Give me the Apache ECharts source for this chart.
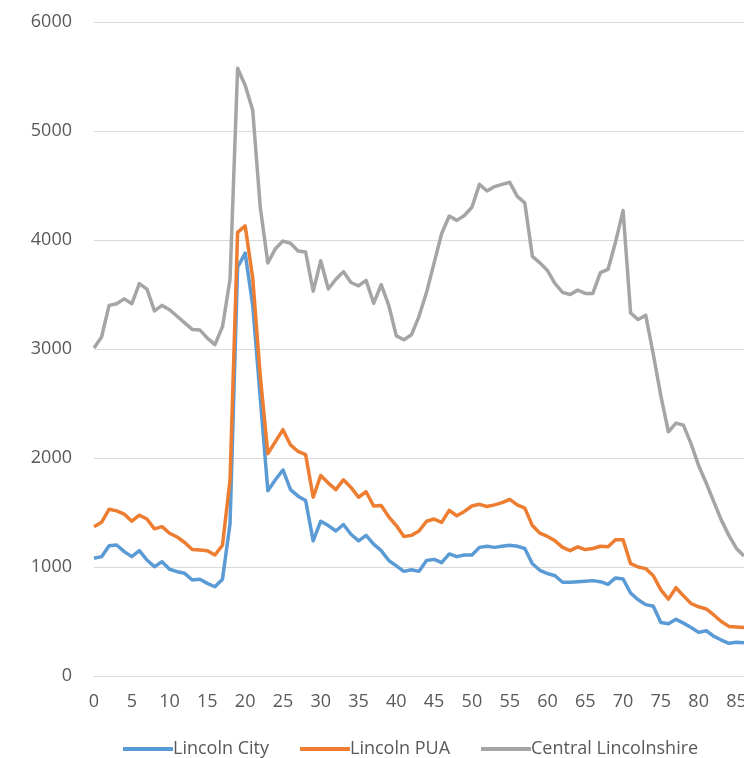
<!DOCTYPE html>
<html>
<head>
<meta charset="utf-8">
<script src="https://cdn.jsdelivr.net/npm/echarts@6/dist/echarts.min.js"></script>
<style>
html,body{margin:0;padding:0;background:#fff;overflow:hidden;}
#chart{width:744px;height:758px;}
</style>
</head>
<body>
<div id="chart"></div>
<script>
const ages = [];
for (let a = 0; a <= 86; a++) ages.push(String(a));

const seriesNames = ['Lincoln City', 'Lincoln PUA', 'Central Lincolnshire'];

const lincolnCity = [
  1080, 1095, 1196, 1202, 1141, 1095, 1150, 1064, 1003, 1049,
  979, 957, 942, 881, 887, 850, 819, 887, 1400, 3750,
  3880, 3400, 2550, 1700, 1800, 1890, 1710, 1650, 1610, 1240,
  1420, 1380, 1330, 1390, 1300, 1240, 1290, 1210, 1150, 1060,
  1010, 960, 975, 960, 1060, 1070, 1040, 1120, 1095, 1110,
  1110, 1180, 1190, 1180, 1190, 1200, 1190, 1170, 1030, 970,
  940, 920, 860, 860, 865, 870, 875, 865, 840, 900,
  890, 760, 700, 655, 640, 490, 480, 520, 485, 445,
  400, 415, 365, 330, 300, 310, 305
];

const lincolnPUA = [
  1370, 1410, 1530, 1515, 1485, 1420, 1475, 1440, 1350, 1370,
  1310, 1275, 1225, 1160, 1155, 1150, 1110, 1200, 1800, 4070,
  4130, 3650, 2750, 2040, 2150, 2260, 2120, 2060, 2030, 1640,
  1840, 1770, 1710, 1800, 1730, 1640, 1690, 1560, 1565, 1460,
  1380, 1280, 1290, 1330, 1420, 1440, 1410, 1520, 1470, 1510,
  1560, 1575, 1555, 1570, 1590, 1620, 1570, 1540, 1380, 1310,
  1280, 1240, 1180, 1150, 1185, 1160, 1170, 1190, 1185, 1250,
  1250, 1030, 1000, 985, 920, 790, 705, 810, 735, 665,
  635, 615, 560, 500, 455, 450, 445
];

const centralLincolnshire = [
  3010, 3110, 3400, 3415, 3460, 3415, 3600, 3550, 3350, 3400,
  3360, 3300, 3240, 3180, 3175, 3100, 3040, 3205, 3640, 5575,
  5420, 5190, 4300, 3790, 3920, 3990, 3970, 3900, 3890, 3530,
  3810, 3550, 3640, 3710, 3610, 3580, 3630, 3420, 3590, 3400,
  3120, 3085, 3130, 3300, 3520, 3790, 4060, 4220, 4180, 4225,
  4300, 4510, 4450, 4490, 4510, 4530, 4400, 4340, 3850, 3790,
  3720, 3600, 3520, 3500, 3540, 3510, 3510, 3700, 3730, 3980,
  4270, 3330, 3270, 3310, 2950, 2570, 2240, 2320, 2300, 2130,
  1930, 1770, 1600, 1430, 1290, 1170, 1100
];

const yTicks = [0, 1000, 2000, 3000, 4000, 5000, 6000];
const colors = ['#5b9bd5', '#ed7d31', '#a5a5a5'];
const textColor = '#595959';
const fontFamily = '"Open Sans", "Liberation Sans", sans-serif';

const chart = echarts.init(document.getElementById('chart'), null, {renderer: 'canvas'});
const values = [lincolnCity, lincolnPUA, centralLincolnshire];

chart.setOption({
  animation: false,
  backgroundColor: '#ffffff',
  color: colors,
  textStyle: {fontFamily: fontFamily},
  grid: {left: 94, right: 0, top: 22, bottom: 82, containLabel: false, outerBoundsMode: 'none'},
  legend: {
    data: seriesNames,
    left: 118,
    top: 735,
    icon: 'rect',
    itemWidth: 50,
    itemHeight: 4,
    itemGap: 31,
    textStyle: {color: textColor, fontSize: 18, fontFamily: fontFamily, padding: [0, 0, 0, -5]}
  },
  xAxis: {
    type: 'category',
    data: ages,
    boundaryGap: false,
    axisLine: {show: true, lineStyle: {color: '#d9d9d9', width: 1}},
    axisTick: {show: false},
    axisLabel: {interval: 4, color: textColor, fontSize: 18, margin: 17, fontFamily: fontFamily},
    splitLine: {show: false}
  },
  yAxis: {
    type: 'value',
    min: yTicks[0],
    max: yTicks[yTicks.length - 1],
    interval: 1000,
    axisLine: {show: false},
    axisTick: {show: false},
    axisLabel: {color: textColor, fontSize: 18, margin: 22, fontFamily: fontFamily,
      formatter: function (v) { return String(v); }},
    splitLine: {show: true, lineStyle: {color: '#d9d9d9', width: 1}}
  },
  series: seriesNames.map((name, i) => ({
    name: name,
    type: 'line',
    data: values[i],
    showSymbol: false,
    symbol: 'none',
    smooth: false,
    clip: true,
    lineStyle: {width: 3.5, color: colors[i], join: 'round'},
    itemStyle: {color: colors[i]},
    emphasis: {disabled: true}
  }))
});
</script>
</body>
</html>
